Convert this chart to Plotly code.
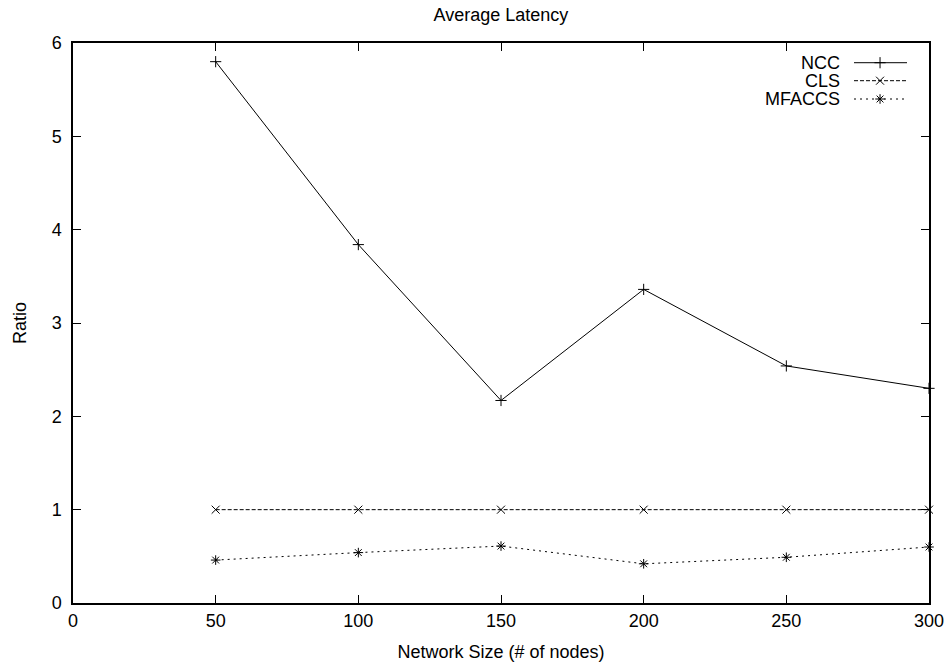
import plotly.graph_objects as go

sizes = [50, 100, 150, 200, 250, 300]
ncc = [5.80, 3.84, 2.17, 3.36, 2.54, 2.30]
cls = [1.0, 1.0, 1.0, 1.0, 1.0, 1.0]
mfaccs = [0.46, 0.54, 0.61, 0.42, 0.49, 0.60]
series_names = ["NCC", "CLS", "MFACCS"]

FONT = "Liberation Sans, Arial, Helvetica, sans-serif"
styles = [
    dict(dash="solid", symbol="cross-thin"),
    dict(dash="4px,2px", symbol="x-thin"),
    dict(dash="2px,4px", symbol="asterisk"),
]

fig = go.Figure()
for name, vals, st in zip(series_names, [ncc, cls, mfaccs], styles):
    fig.add_trace(go.Scatter(
        x=sizes, y=vals, name=name, mode="lines+markers",
        line=dict(color="black", width=1, dash=st["dash"]),
        marker=dict(symbol=st["symbol"], size=8, color="black",
                    line=dict(color="black", width=1)),
        showlegend=False, cliponaxis=False,
    ))

# custom gnuplot-style legend (text left, sample right)
leg_y = [0.9648, 0.9327, 0.900]
for name, st, yy in zip(series_names, styles, leg_y):
    fig.add_trace(go.Scatter(
        x=[0.9124, 0.9428, 0.9743], y=[yy, yy, yy], xaxis="x2", yaxis="y2",
        mode="lines", line=dict(color="black", width=1, dash=st["dash"]),
        showlegend=False, hoverinfo="skip",
    ))
    fig.add_trace(go.Scatter(
        x=[0.9428], y=[yy], xaxis="x2", yaxis="y2", mode="markers",
        marker=dict(symbol=st["symbol"], size=8, color="black",
                    line=dict(color="black", width=1)),
        showlegend=False, hoverinfo="skip",
    ))
    fig.add_annotation(x=0.898, y=yy, xref="paper", yref="paper",
                       text=name, showarrow=False, xanchor="right",
                       yanchor="middle", height=16, valign="middle",
                       font=dict(size=18, color="black", family=FONT))

axis_common = dict(
    showline=True, linecolor="black", linewidth=1.5, mirror="ticks",
    ticks="inside", ticklen=8, tickwidth=1.2, tickcolor="black",
    showgrid=False, zeroline=False, automargin=False,
    ticklabeloverflow="allow",
    tickfont=dict(size=18, color="black", family=FONT),
)

fig.update_layout(
    width=950, height=662,
    margin=dict(l=73, r=21, t=43, b=59),
    paper_bgcolor="white", plot_bgcolor="white",
    font=dict(family=FONT, size=18, color="black"),
    title=dict(text="Average Latency", x=501 / 950, xanchor="center",
               y=1 - 15 / 662, yanchor="middle", yref="container",
               font=dict(size=18, color="black", family=FONT)),
    xaxis=dict(range=[0, 300], tickvals=[0, 50, 100, 150, 200, 250, 300],
               title=dict(text="Network Size (# of nodes)", standoff=15,
                          font=dict(size=18, color="black", family=FONT)),
               ticklabelstandoff=1,
               **axis_common),
    yaxis=dict(range=[0, 6], tickvals=[0, 1, 2, 3, 4, 5, 6],
               title=dict(text="Ratio", standoff=20,
                          font=dict(size=18, color="black", family=FONT)),
               ticklabelstandoff=6,
               **axis_common),
    xaxis2=dict(range=[0, 1], overlaying="x", visible=False, fixedrange=True),
    yaxis2=dict(range=[0, 1], overlaying="y", visible=False, fixedrange=True),
    showlegend=False,
)

fig.write_html("out.html",
               config={"displayModeBar": False},
               post_script="document.body.style.margin='0';document.body.style.overflow='hidden';")
